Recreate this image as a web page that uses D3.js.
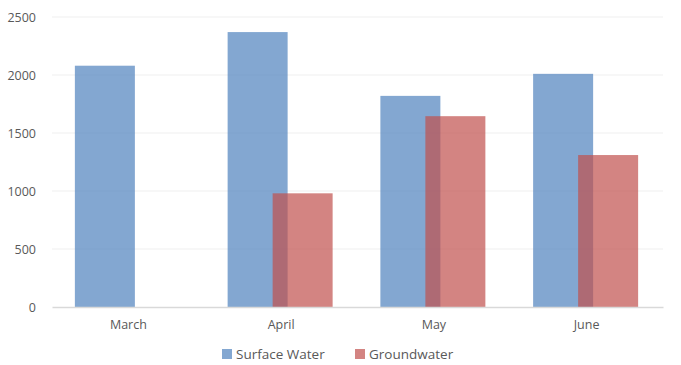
<!DOCTYPE html>
<html><head><meta charset="utf-8">
<script src="https://cdn.jsdelivr.net/npm/d3@7"></script>
<style>body{margin:0;background:#fff}svg{display:block}text{font-family:"Open Sans","Noto Sans",sans-serif}</style>
</head><body><svg id="c" width="681" height="365"></svg>
<script>
const categories = ["March","April","May","June"];
const surfaceWater = [2080, 2370, 1820, 2010];
const groundwater = [null, 980, 1645, 1310];
const yTicks = [0, 500, 1000, 1500, 2000, 2500];
const seriesNames = ["Surface Water","Groundwater"];
const seriesColors = ["#4f81bd","#c0504d"];

const svg = d3.select("#c");
const m = {l:52, r:18, t:17, b:58};
const W = 681, H = 365;
const x = d3.scaleBand().domain(categories).range([m.l, W - m.r]);
const y = d3.scaleLinear().domain([0, 2500]).range([H - m.b, m.t]);

// gridlines
svg.append("g").selectAll("line").data(yTicks.filter(d => d > 0)).join("line")
  .attr("x1", m.l).attr("x2", W - m.r)
  .attr("y1", d => y(d)).attr("y2", d => y(d))
  .attr("stroke", "#efefef").attr("stroke-width", 1);

// y axis labels
const ya = svg.append("g").attr("transform", `translate(${m.l - 16},0)`)
  .call(d3.axisLeft(y).tickValues(yTicks).tickFormat(d3.format("d")).tickSize(0).tickPadding(0));
ya.select(".domain").remove();
ya.selectAll("text").attr("font-size", 12.5).attr("fill", "#595959").attr("font-family", "'Open Sans', sans-serif");

const bw = 60;
const bars = svg.append("g");
bars.selectAll("rect.s").data(categories.map((c,i)=>({c, v: surfaceWater[i]})).filter(d=>d.v!=null)).join("rect")
  .attr("x", d => x(d.c) + x.bandwidth()/2 - 53.5).attr("width", bw)
  .attr("y", d => y(d.v)).attr("height", d => y(0) - y(d.v))
  .attr("fill", seriesColors[0]).attr("fill-opacity", 0.7);
bars.selectAll("rect.g").data(categories.map((c,i)=>({c, v: groundwater[i]})).filter(d=>d.v!=null)).join("rect")
  .attr("x", d => x(d.c) + x.bandwidth()/2 - 8.5).attr("width", bw)
  .attr("y", d => y(d.v)).attr("height", d => y(0) - y(d.v))
  .attr("fill", seriesColors[1]).attr("fill-opacity", 0.7);

// x axis
const xa = svg.append("g").attr("transform", `translate(0,${y(0)})`)
  .call(d3.axisBottom(x).tickSize(0).tickPadding(13));
xa.select(".domain").attr("stroke", "#d9d9d9").attr("stroke-width", 1.5);
xa.selectAll("text").attr("font-size", 12.5).attr("fill", "#595959").attr("font-family", "'Open Sans', sans-serif");

// legend
const lg = svg.append("g").attr("transform", "translate(222,354)");
const items = [{n: seriesNames[0], c: seriesColors[0], x: 0}, {n: seriesNames[1], c: seriesColors[1], x: 133}];
items.forEach(it => {
  lg.append("rect").attr("x", it.x).attr("y", -5).attr("width", 10).attr("height", 10)
    .attr("fill", it.c).attr("fill-opacity", 0.7);
  lg.append("text").attr("x", it.x + 14).attr("y", 0).attr("dy", "0.35em")
    .attr("font-size", 13.5).attr("fill", "#595959").text(it.n);
});
</script></body></html>
